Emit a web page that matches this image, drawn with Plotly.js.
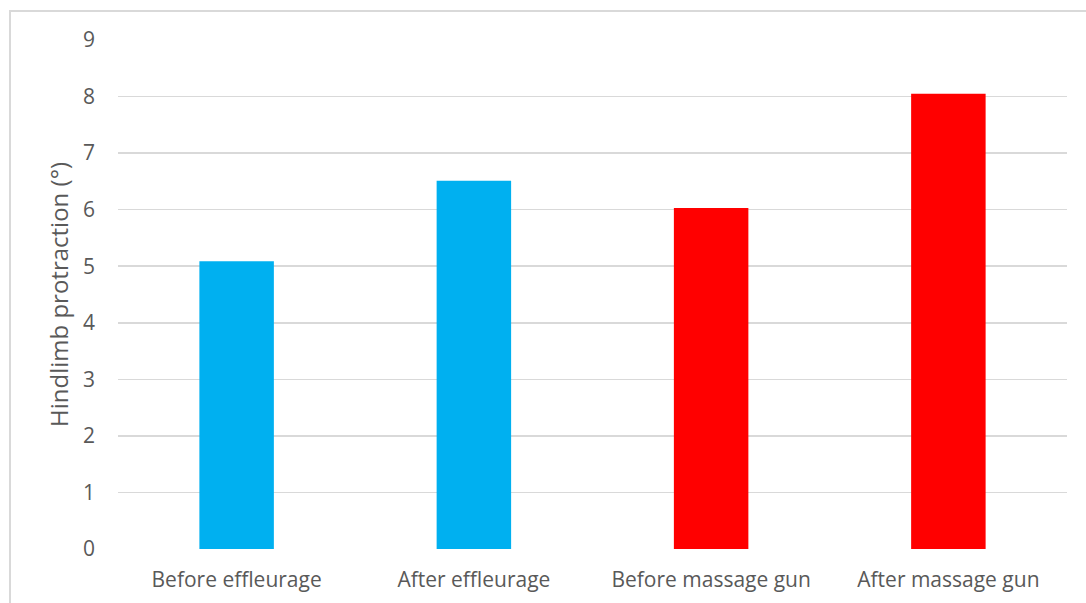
<!DOCTYPE html>
<html>
<head>
<meta charset="utf-8">
<script src="https://cdn.plot.ly/plotly-3.0.1.min.js"></script>
<style>
html,body{margin:0;padding:0;background:#fff;overflow:hidden;}
#chart{width:1086px;height:603px;position:relative;}
#frame{position:absolute;left:9px;top:10px;width:1200px;height:700px;border:2px solid #d9d9d9;pointer-events:none;box-sizing:border-box;}
</style>
</head>
<body>
<div id="chart"></div>
<div id="frame"></div>
<script>
const categories = ["Before effleurage", "After effleurage", "Before massage gun", "After massage gun"];
const values = [5.09, 6.51, 6.03, 8.05];
const barColors = ["#00B0F0", "#00B0F0", "#FF0000", "#FF0000"];
const yTicks = [0, 1, 2, 3, 4, 5, 6, 7, 8, 9];

const trace = {
  type: "bar",
  x: categories,
  y: values,
  marker: {color: barColors, line: {width: 0}},
  width: 0.314,
  hoverinfo: "skip"
};

const layout = {
  width: 1086,
  height: 603,
  margin: {l: 118, r: 19, t: 40, b: 54},
  paper_bgcolor: "#ffffff",
  plot_bgcolor: "#ffffff",
  showlegend: false,
  font: {family: "Open Sans, sans-serif", color: "#595959", size: 21},
  xaxis: {
    showgrid: false,
    zeroline: false,
    showline: false,
    ticks: "",
    tickfont: {size: 21, color: "#595959"},
    ticklabelstandoff: 16
  },
  yaxis: {
    range: [0, 9],
    tickvals: yTicks,
    ticktext: yTicks.map(String),
    showgrid: true,
    gridcolor: "#d9d9d9",
    gridwidth: 1.5,
    zeroline: false,
    showline: false,
    ticks: "",
    tickfont: {size: 21, color: "#595959"},
    ticklabelstandoff: 22,
    title: {text: "Hindlimb protraction (°)", font: {size: 24, color: "#595959"}, standoff: 7}
  }
};

Plotly.newPlot("chart", [trace], layout, {displayModeBar: false, staticPlot: true});
</script>
</body>
</html>
